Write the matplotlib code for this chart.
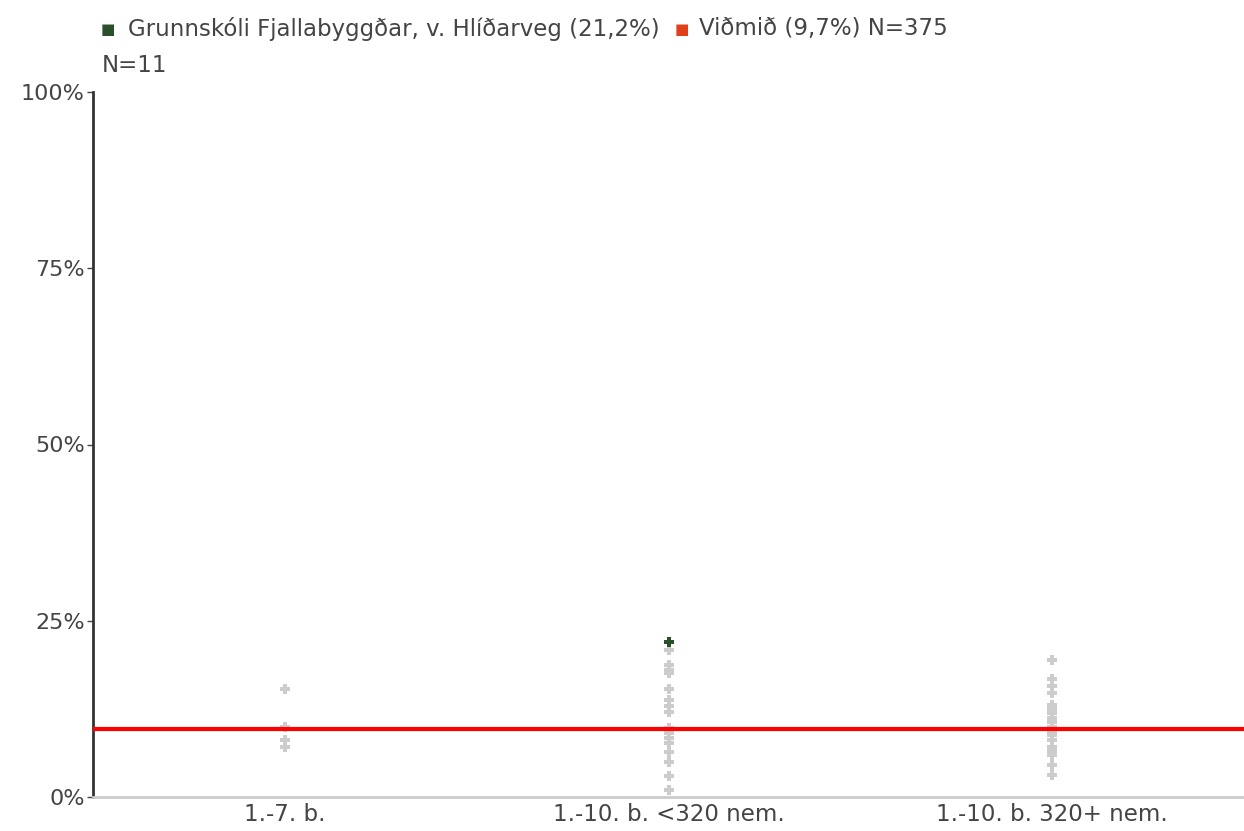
import matplotlib
matplotlib.use("Agg")
import matplotlib.pyplot as plt

categories = ["1.-7. b.", "1.-10. b. <320 nem.", "1.-10. b. 320+ nem."]
group1 = [15.3, 9.9, 8.1, 7.1]
group2 = [20.9, 18.7, 18.0, 17.6, 15.3, 13.8, 12.9, 12.1, 9.8, 9.1, 8.4, 7.7, 6.4, 5.0, 3.0, 1.0]
group3 = [19.4, 16.7, 15.7, 14.8, 13.0, 12.5, 11.9, 11.2, 10.6, 9.9, 9.4, 8.8, 8.1, 7.1, 6.5, 6.0, 4.5, 3.1]
others = [group1, group2, group3]
school_cat = 1
school_value = 22.0
benchmark = 9.7
yticks = [0, 25, 50, 75, 100]
ytick_labels = ["0%", "25%", "50%", "75%", "100%"]
legend_school = "Grunnskóli Fjallabyggðar, v. Hlíðarveg (21,2%)"
legend_school_n = "N=11"
legend_bench = "Viðmið (9,7%) N=375"

plt.rcParams['font.family'] = ['DejaVu Sans']

fig = plt.figure(figsize=(12.44, 8.31), dpi=100)
ax = fig.add_axes([93/1244, 34/831, 1 - 93/1244, (797-92)/831])

gray = "#cccccc"
green = "#2b4f2b"
txt = "#444444"
fs = 16.5
for i, vals in enumerate(others):
    ax.scatter([i]*len(vals), vals, marker='P', s=50, color=gray, linewidths=0, zorder=2)
ax.axhline(benchmark, color="#ff0000", lw=3.0, zorder=3)
ax.scatter([school_cat], [school_value], marker='P', s=50, color=green, linewidths=0, zorder=4)

ax.set_xlim(-0.5, 2.5)
ax.set_ylim(0, 100)
ax.set_xticks(range(len(categories)))
ax.set_xticklabels(categories, fontsize=fs, color=txt)
ax.set_yticks(yticks)
ax.set_yticklabels(ytick_labels, fontsize=16, color=txt)
ax.tick_params(axis='x', length=0, pad=4)
ax.tick_params(axis='y', length=4, width=1, color=txt, pad=2)
for s in ['top', 'right']:
    ax.spines[s].set_visible(False)
ax.spines['left'].set_color("#333333")
ax.spines['left'].set_linewidth(2)
ax.spines['bottom'].set_color("#cccccc")
ax.spines['bottom'].set_linewidth(2)

# legend
ly = 1 - 29/831
fig.text(101/1244, ly, "■", color=green, fontsize=11, va='center', ha='left')
fig.text(128/1244, ly, legend_school, color=txt, fontsize=fs, va='center', ha='left')
fig.text(675/1244, ly, "■", color="#e0401a", fontsize=11, va='center', ha='left')
fig.text(699/1244, ly, legend_bench, color=txt, fontsize=fs, va='center', ha='left')
fig.text(102/1244, 1 - 66/831, legend_school_n, color=txt, fontsize=fs, va='center', ha='left')

fig.savefig("out.png", dpi=100)
